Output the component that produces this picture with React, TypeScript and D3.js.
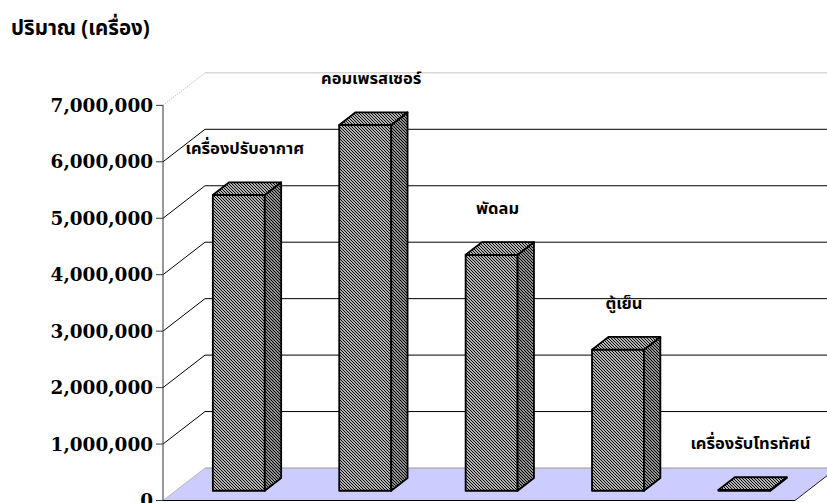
import React from "react";
import * as d3 from "d3";

// Appliance sales volume (units)
const categories = ["เครื่องปรับอากาศ", "คอมเพรสเซอร์", "พัดลม", "ตู้เย็น", "เครื่องรับโทรทัศน์"];
const values = [5240000, 6480000, 4180000, 2500000, 15000];
const yTicks = [0, 1000000, 2000000, 3000000, 4000000, 5000000, 6000000, 7000000];
const titleText = "ปริมาณ (เครื่อง)";

const W = 827;
const H = 503;

// front plane of the plot box
const X0 = 163;
const X1 = 795;
const Y0 = 500.5;
const Y7 = 105.35;
// depth vector of the box
const DX = 42;
const DY = -32.5;
// bars sit inside the depth
const FRONT = 0.3;
const DEPTH = 0.39;

const thaiFont = "Tahoma, 'Noto Sans Thai', 'Noto Sans', 'DejaVu Sans', sans-serif";
const numFont = "'DejaVu Serif', serif";

export default function App() {
  const x = d3
    .scaleBand<string>()
    .domain(categories)
    .range([X0, X1])
    .paddingInner(0.589)
    .paddingOuter(0.2945);
  const y = d3.scaleLinear().domain([0, 7000000]).range([Y0, Y7]);
  const fmt = d3.format(",");

  const fx = DX * FRONT;
  const fy = DY * FRONT;
  const bx = DX * DEPTH;
  const by = DY * DEPTH;
  const bw = x.bandwidth();

  const pts = (arr: [number, number][]) => arr.map((p) => p.join(",")).join(" ");

  return (
    <svg width={W} height={H} style={{ position: "absolute", left: 0, top: 0, background: "#fff" }}>
      <defs>
        <pattern id="hatch" patternUnits="userSpaceOnUse" width={3} height={3}>
          <rect width={3} height={3} fill="#fff" />
          <path d="M-1,-1 L4,4 M-1,2 L1,4 M2,-1 L4,1" stroke="#000" strokeWidth={1.15} />
        </pattern>
        <pattern id="hatchSide" patternUnits="userSpaceOnUse" width={3} height={3}>
          <rect width={3} height={3} fill="#fff" />
          <path d="M-1,-1 L4,4 M-1,2 L1,4 M2,-1 L4,1" stroke="#000" strokeWidth={1.3} />
        </pattern>
      </defs>

      {/* title */}
      <text x={11} y={35} fontFamily={thaiFont} fontWeight="bold" fontSize={20.5} fill="#000">
        {titleText}
      </text>

      {/* floor */}
      <polygon
        points={pts([
          [X0, Y0],
          [X0 + DX, Y0 + DY],
          [X1 + DX, Y0 + DY],
          [X1, Y0],
        ])}
        fill="#ccccff"
      />
      <line x1={X0} y1={Y0} x2={X0 + DX} y2={Y0 + DY} stroke="#bbb" strokeWidth={1} />
      <line x1={X0 + DX} y1={Y0 + DY} x2={X1 + DX} y2={Y0 + DY} stroke="#999" strokeWidth={1} />
      <line x1={X1} y1={Y0} x2={X1 + DX} y2={Y0 + DY} stroke="#222" strokeWidth={1} />
      <line x1={X0} y1={Y0} x2={X1} y2={Y0} stroke="#000" strokeWidth={1.2} />

      {/* gridlines on the side and back walls */}
      {yTicks.slice(1).map((t) => {
        const top = t === 7000000;
        const col = top ? "#c4c4c4" : "#000";
        return (
          <g key={t}>
            <line
              x1={X0}
              y1={y(t)}
              x2={X0 + DX}
              y2={y(t) + DY}
              stroke={col}
              strokeWidth={1}
              strokeDasharray={top ? "1.5,1" : undefined}
            />
            <line x1={X0 + DX} y1={y(t) + DY} x2={X1 + DX + 10} y2={y(t) + DY} stroke={col} strokeWidth={1} />
          </g>
        );
      })}

      {/* value axis */}
      <line x1={X0} y1={Y7} x2={X0} y2={Y0} stroke="#333" strokeWidth={1} />
      {yTicks.map((t) => (
        <g key={t}>
          <line x1={X0 - 7} y1={y(t)} x2={X0} y2={y(t)} stroke="#333" strokeWidth={1} />
          <text
            x={X0 - 10}
            y={y(t)}
            dy="0.36em"
            textAnchor="end"
            fontFamily={numFont}
            fontWeight="bold"
            fontSize={18.4}
            fill="#000"
          >
            {fmt(t)}
          </text>
        </g>
      ))}

      {/* bars */}
      {categories.map((c, i) => {
        const v = values[i];
        const l = (x(c) as number) + fx;
        const r = l + bw;
        const b = Y0 + fy;
        const t = y(v) + fy;
        return (
          <g key={c} stroke="#000" strokeWidth={1.8} strokeLinejoin="round">
            <rect x={l} y={t} width={bw} height={b - t} fill="url(#hatch)" />
            <polygon
              points={pts([
                [r, t],
                [r + bx, t + by],
                [r + bx, b + by],
                [r, b],
              ])}
              fill="url(#hatchSide)"
            />
            <polygon
              points={pts([
                [l, t],
                [l + bx, t + by],
                [r + bx, t + by],
                [r, t],
              ])}
              fill="url(#hatch)"
            />
          </g>
        );
      })}

      {/* category labels above bars */}
      {categories.map((c, i) => (
        <text
          key={c}
          x={(x(c) as number) + bw / 2 + fx + 6}
          y={y(values[i]) + fy - 41}
          textAnchor="middle"
          fontFamily={thaiFont}
          fontWeight="bold"
          fontSize={16.5}
          fill="#000"
        >
          {c}
        </text>
      ))}
    </svg>
  );
}
